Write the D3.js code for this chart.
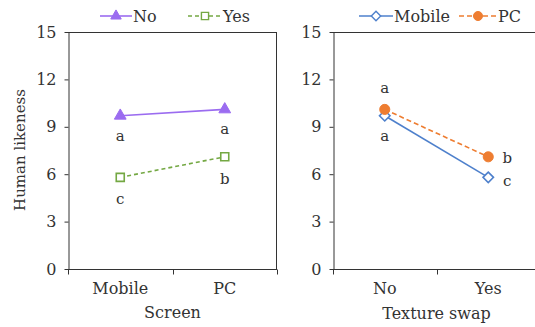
<!DOCTYPE html>
<html>
<head>
<meta charset="utf-8">
<script src="https://cdn.jsdelivr.net/npm/d3@7"></script>
<style>
  html, body { margin: 0; padding: 0; background: #fff; }
  svg { display: block; }
  text { font-family: "DejaVu Serif", "Liberation Serif", serif; fill: #333; }
</style>
</head>
<body>
<svg id="chart" width="535" height="327"></svg>
<script>
// Human likeness ratings by screen and texture swap
const screens = ["Mobile", "PC"];
const swapLevels = ["No", "Yes"];
const yTicks = [0, 3, 6, 9, 12, 15];

// Left panel: one line per texture-swap level, across screens
const swapNo = [9.7, 10.1];
const swapYes = [5.8, 7.1];
const swapNoLetters = ["a", "a"];
const swapYesLetters = ["c", "b"];

// Right panel: one line per screen, across texture-swap levels
const mobileScores = [9.7, 5.8];
const pcScores = [10.1, 7.1];
const mobileLetters = ["a", "c"];
const pcLetters = ["a", "b"];

const colors = { purple: "#9b6cf0", green: "#74a843", blue: "#4e80cc", orange: "#ee7d31" };
const axisColor = "#333";

const svg = d3.select("#chart");
const plotTop = 32, plotBottom = 269;
const y = d3.scaleLinear().domain([0, 15]).range([plotBottom, plotTop]);

function symbolPath(type, size) {
  return d3.symbol().type(type).size(size)();
}

function drawPanel(opts) {
  const g = svg.append("g");
  const x = d3.scaleBand().domain(opts.categories).range([opts.x0, opts.x1]);

  // plot frame: top and right edges
  g.append("line").attr("x1", opts.x0).attr("x2", opts.x1).attr("y1", plotTop + 0.5).attr("y2", plotTop + 0.5)
    .attr("stroke", axisColor).attr("stroke-width", 1);
  g.append("line").attr("x1", opts.x1 - 0.5).attr("x2", opts.x1 - 0.5).attr("y1", plotTop).attr("y2", plotBottom)
    .attr("stroke", axisColor).attr("stroke-width", 1);

  // y axis
  const yAxis = g.append("g").attr("transform", `translate(${opts.x0 + 0.5},0)`)
    .call(d3.axisLeft(y).tickValues(yTicks).tickSize(4).tickPadding(8).tickSizeOuter(0));
  yAxis.select(".domain").attr("stroke", axisColor);
  yAxis.selectAll(".tick line").attr("stroke", axisColor);
  yAxis.selectAll(".tick text").attr("font-size", 16).attr("font-family", "DejaVu Serif").attr("fill", "#333");

  // x axis with ticks on the band boundaries
  const xAxisG = g.append("g").attr("transform", `translate(0,${plotBottom + 0.5})`);
  xAxisG.append("line").attr("x1", opts.x0).attr("x2", opts.x1).attr("stroke", axisColor);
  const bounds = [opts.x0].concat(opts.categories.map(c => x(c) + x.bandwidth()));
  xAxisG.selectAll("line.bt").data(bounds).join("line").attr("class", "bt")
    .attr("x1", d => Math.round(d) + 0.5).attr("x2", d => Math.round(d) + 0.5)
    .attr("y1", 0).attr("y2", 5).attr("stroke", axisColor);
  xAxisG.selectAll("text").data(opts.categories).join("text")
    .attr("x", d => x(d) + x.bandwidth() / 2).attr("y", 24)
    .attr("text-anchor", "middle").attr("font-size", 16).text(d => d);

  g.append("text").attr("x", opts.x0 + (opts.x1 - opts.x0) / 2).attr("y", opts.titleY)
    .attr("text-anchor", "middle").attr("font-size", 16).text(opts.title);

  const cx = d => x(d) + x.bandwidth() / 2;

  opts.series.forEach(s => {
    const pts = opts.categories.map((c, i) => ({ c, v: s.values[i], l: s.letters[i], i }));
    g.append("path").datum(pts)
      .attr("d", d3.line().x(d => cx(d.c)).y(d => y(d.v)))
      .attr("fill", "none").attr("stroke", s.color).attr("stroke-width", 1.6)
      .attr("stroke-dasharray", s.dash || null);
    g.selectAll(null).data(pts).join("path")
      .attr("transform", d => `translate(${cx(d.c)},${y(d.v)})`)
      .attr("d", symbolPath(s.symbol, s.size))
      .attr("fill", s.hollow ? "#fff" : s.color)
      .attr("stroke", s.color).attr("stroke-width", s.hollow ? 1.6 : 1);
    g.selectAll(null).data(pts).join("text")
      .attr("x", d => cx(d.c) + s.labelDx(d.i))
      .attr("y", d => y(d.v) + s.labelDy(d.i))
      .attr("text-anchor", "middle").attr("dominant-baseline", "central")
      .attr("font-size", 15).text(d => d.l);
  });

  // legend
  opts.legend.forEach(item => {
    const lg = g.append("g");
    lg.append("line").attr("x1", item.x).attr("x2", item.x + item.w).attr("y1", 16).attr("y2", 16)
      .attr("stroke", item.s.color).attr("stroke-width", 1.6).attr("stroke-dasharray", item.s.dash || null);
    lg.append("path").attr("transform", `translate(${item.x + item.w / 2},16)`)
      .attr("d", symbolPath(item.s.symbol, item.s.size * 0.8))
      .attr("fill", item.s.hollow ? "#fff" : item.s.color)
      .attr("stroke", item.s.color).attr("stroke-width", item.s.hollow ? 1.4 : 1);
    lg.append("text").attr("x", item.x + item.w + 1).attr("y", 16).attr("dominant-baseline", "central")
      .attr("font-size", 16).text(item.s.name);
  });
}

const noSeries = { name: "No", values: swapNo, letters: swapNoLetters, color: colors.purple,
  symbol: d3.symbolTriangle, size: 60, hollow: false, labelDx: () => 0, labelDy: () => 20 };
const yesSeries = { name: "Yes", values: swapYes, letters: swapYesLetters, color: colors.green,
  symbol: d3.symbolSquare, size: 64, hollow: true, dash: "4,3", labelDx: () => 0, labelDy: () => 22 };

drawPanel({
  x0: 68, x1: 277, categories: screens, title: "Screen", titleY: 318,
  series: [noSeries, yesSeries],
  legend: [{ s: noSeries, x: 100, w: 32 }, { s: yesSeries, x: 188, w: 34 }]
});

const mobileSeries = { name: "Mobile", values: mobileScores, letters: mobileLetters, color: colors.blue,
  symbol: d3.symbolDiamond2, size: 70, hollow: true,
  labelDx: i => i === 0 ? 0 : 19, labelDy: i => i === 0 ? 20 : 4 };
const pcSeries = { name: "PC", values: pcScores, letters: pcLetters, color: colors.orange,
  symbol: d3.symbolCircle, size: 80, hollow: false, dash: "5,3",
  labelDx: i => i === 0 ? 0 : 19, labelDy: i => i === 0 ? -21 : 1 };

drawPanel({
  x0: 333, x1: 540, categories: swapLevels, title: "Texture swap", titleY: 319,
  series: [mobileSeries, pcSeries],
  legend: [{ s: mobileSeries, x: 359, w: 34 }, { s: pcSeries, x: 459, w: 38 }]
});

// shared y-axis title
svg.append("text")
  .attr("transform", "translate(20,150) rotate(-90)")
  .attr("text-anchor", "middle").attr("dominant-baseline", "central")
  .attr("font-size", 15).text("Human likeness");
</script>
</body>
</html>
